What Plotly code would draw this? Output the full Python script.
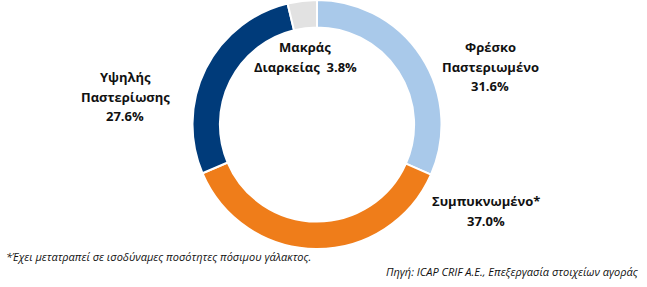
import plotly.graph_objects as go

categories = ["Φρέσκο Παστεριωμένο", "Συμπυκνωμένο*", "Υψηλής Παστερίωσης", "Μακράς Διαρκείας"]
label_lines = [["Φρέσκο", "Παστεριωμένο"], ["Συμπυκνωμένο*"], ["Υψηλής", "Παστερίωσης"], ["Μακράς", "Διαρκείας"]]
values = [31.6, 37.0, 27.6, 3.8]
colors = ["#A9C9EA", "#EF7D1A", "#003B7A", "#E2E2E2"]
footnote = "*Έχει μετατραπεί σε ισοδύναμες ποσότητες πόσιμου γάλακτος."
source = "Πηγή: ICAP CRIF A.E., Επεξεργασία στοιχείων αγοράς"

W, H = 647, 287
fig = go.Figure()
fig.add_trace(go.Pie(
    labels=categories, values=values, sort=False, direction="clockwise", rotation=0,
    hole=0.78, marker=dict(colors=colors, line=dict(color="white", width=2)),
    textinfo="none", hoverinfo="label+value", showlegend=False,
    domain=dict(x=[(317 - 126) / W, (317 + 126) / W], y=[(287 - 249) / H, 1.0]),
))

FONT = "Open Sans"
lab_font = dict(family=FONT, size=13, color="#111111")
# label positions (paper px): center x, top line y
pos = [(490, 47), (486, 201), (125, 77), (305, 47)]
for i, (lines, v) in enumerate(zip(label_lines, values)):
    x, y0 = pos[i]
    if i == 3:
        texts = [lines[0], lines[1] + "  " + f"{v:.1f}%"]
    else:
        texts = lines + [f"{v:.1f}%"]
    for j, t in enumerate(texts):
        fig.add_annotation(x=x / W, y=1 - (y0 + j * 19.5) / H, xref="paper", yref="paper",
                           text=f"<b>{t}</b>", showarrow=False, font=lab_font,
                           xanchor="center", yanchor="middle")

fig.add_annotation(x=4 / W, y=1 - 256 / H, xref="paper", yref="paper", text=f"<i>{footnote}</i>",
                   showarrow=False, font=dict(family=FONT, size=11, color="#111111"),
                   xanchor="left", yanchor="middle")
fig.add_annotation(x=641 / W, y=1 - 271 / H, xref="paper", yref="paper", text=f"<i>{source}</i>",
                   showarrow=False, font=dict(family=FONT, size=11, color="#111111"),
                   xanchor="right", yanchor="middle")

fig.update_layout(width=W, height=H, margin=dict(l=0, r=0, t=0, b=0),
                  paper_bgcolor="white", plot_bgcolor="white")
fig.write_html("out.html")
